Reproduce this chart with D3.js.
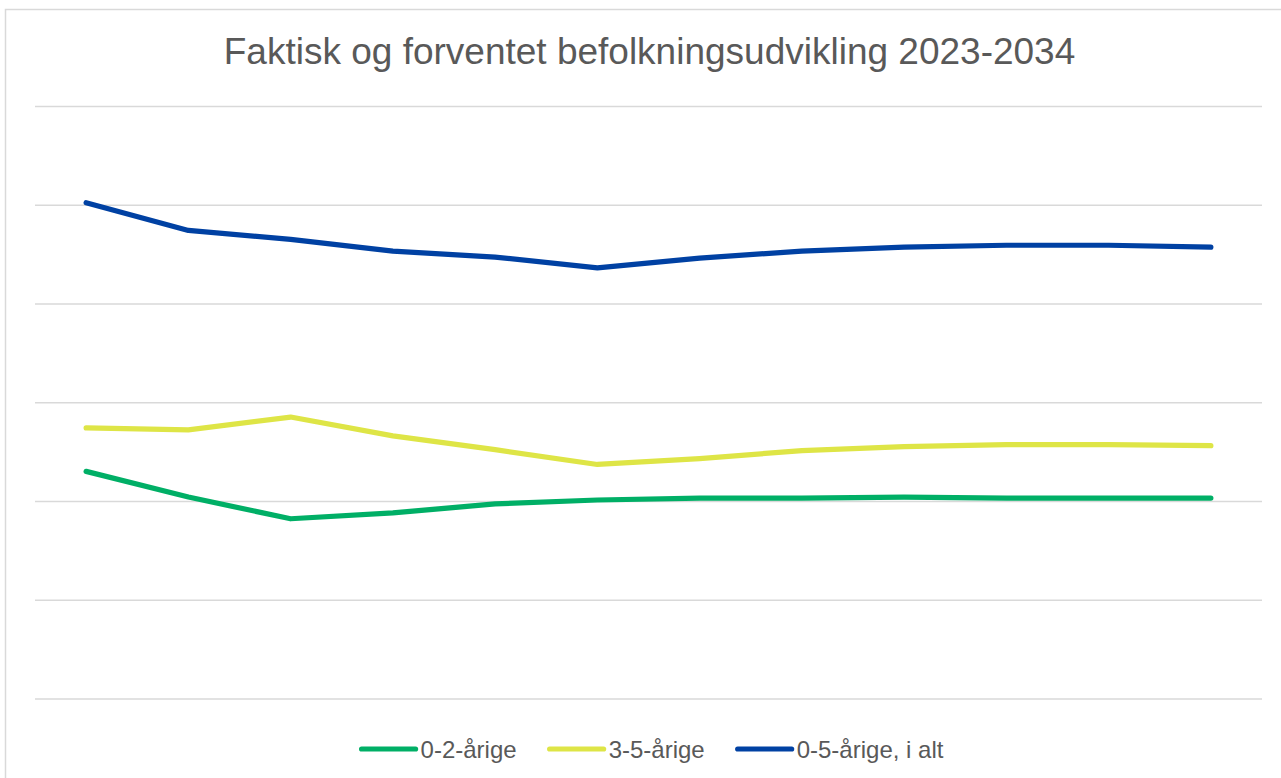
<!DOCTYPE html>
<html>
<head>
<meta charset="utf-8">
<script src="https://cdn.jsdelivr.net/npm/d3@7"></script>
<style>
  html, body { margin: 0; padding: 0; background: #fff; }
  svg { display: block; }
  text { font-family: "Liberation Sans", Arial, sans-serif; fill: #595959; }
</style>
</head>
<body>
<svg id="chart" width="1281" height="778"></svg>
<script>
const title = "Faktisk og forventet befolkningsudvikling 2023-2034";
const years = ["2023","2024","2025","2026","2027","2028","2029","2030","2031","2032","2033","2034"];
const seriesNames = ["0-2-årige", "3-5-årige", "0-5-årige, i alt"];
const green = [230, 204, 182, 188, 197, 201, 203, 203, 204, 203, 203, 203];
const yellow = [274, 272, 285, 266, 252, 237, 243, 251, 255, 257, 257, 256];
const blue = [502, 474, 465, 453, 447, 436, 446, 453, 457, 459, 459, 457];
const gridTicks = [0, 100, 200, 300, 400, 500, 600];
const colors = ["#00AF66", "#DEE546", "#0041A3"];

const series = [green, yellow, blue].map((vals, i) => ({ name: seriesNames[i], values: vals, color: colors[i] }));

const svg = d3.select("#chart");

// chart border
svg.append("rect")
  .attr("x", 5.5).attr("y", 9.5)
  .attr("width", 1300).attr("height", 800)
  .attr("fill", "#fff").attr("stroke", "#D9D9D9").attr("stroke-width", 1.5);

const plotLeft = 35, plotRight = 1262, plotTop = 106, plotBottom = 698.5;

const x = d3.scalePoint().domain(years).range([plotLeft, plotRight]).padding(0.5);
const y = d3.scaleLinear().domain([0, 600]).range([plotBottom, plotTop]);

// gridlines
const grid = svg.append("g")
  .attr("transform", `translate(${plotLeft},0)`)
  .call(d3.axisLeft(y).tickValues(gridTicks).tickSize(-(plotRight - plotLeft)).tickFormat(""));
grid.select(".domain").remove();
grid.selectAll(".tick line").attr("stroke", "#D9D9D9").attr("stroke-width", 1.5);

// title
svg.append("text")
  .attr("x", 649.5).attr("y", 64)
  .attr("text-anchor", "middle")
  .style("font-size", "37px")
  .text(title);

// lines
const line = d3.line()
  .x((d, i) => x(years[i]))
  .y(d => y(d));

svg.append("g").selectAll("path")
  .data(series)
  .join("path")
  .attr("d", d => line(d.values))
  .attr("fill", "none")
  .attr("stroke", d => d.color)
  .attr("stroke-width", 5.2)
  .attr("stroke-linejoin", "round")
  .attr("stroke-linecap", "round");

// legend
const legend = svg.append("g");
const lineLen = 54, gapLT = 5, gapItems = 33, legY = 749;
const fontSize = 24;
const items = [];
series.forEach(s => {
  const g = legend.append("g");
  g.append("line")
    .attr("x1", 0).attr("x2", lineLen)
    .attr("y1", legY).attr("y2", legY)
    .attr("stroke", s.color).attr("stroke-width", 5.2).attr("stroke-linecap", "round");
  const t = g.append("text")
    .attr("x", lineLen + gapLT).attr("y", legY + 8.5)
    .style("font-size", fontSize + "px")
    .text(s.name);
  const w = t.node().getComputedTextLength();
  items.push({ g, w });
});
let total = 0;
items.forEach((it, i) => { total += lineLen + gapLT + it.w + (i < items.length - 1 ? gapItems : 0); });
let cx = 652.5 - total / 2;
items.forEach(it => {
  it.g.attr("transform", `translate(${cx},0)`);
  cx += lineLen + gapLT + it.w + gapItems;
});
</script>
</body>
</html>
